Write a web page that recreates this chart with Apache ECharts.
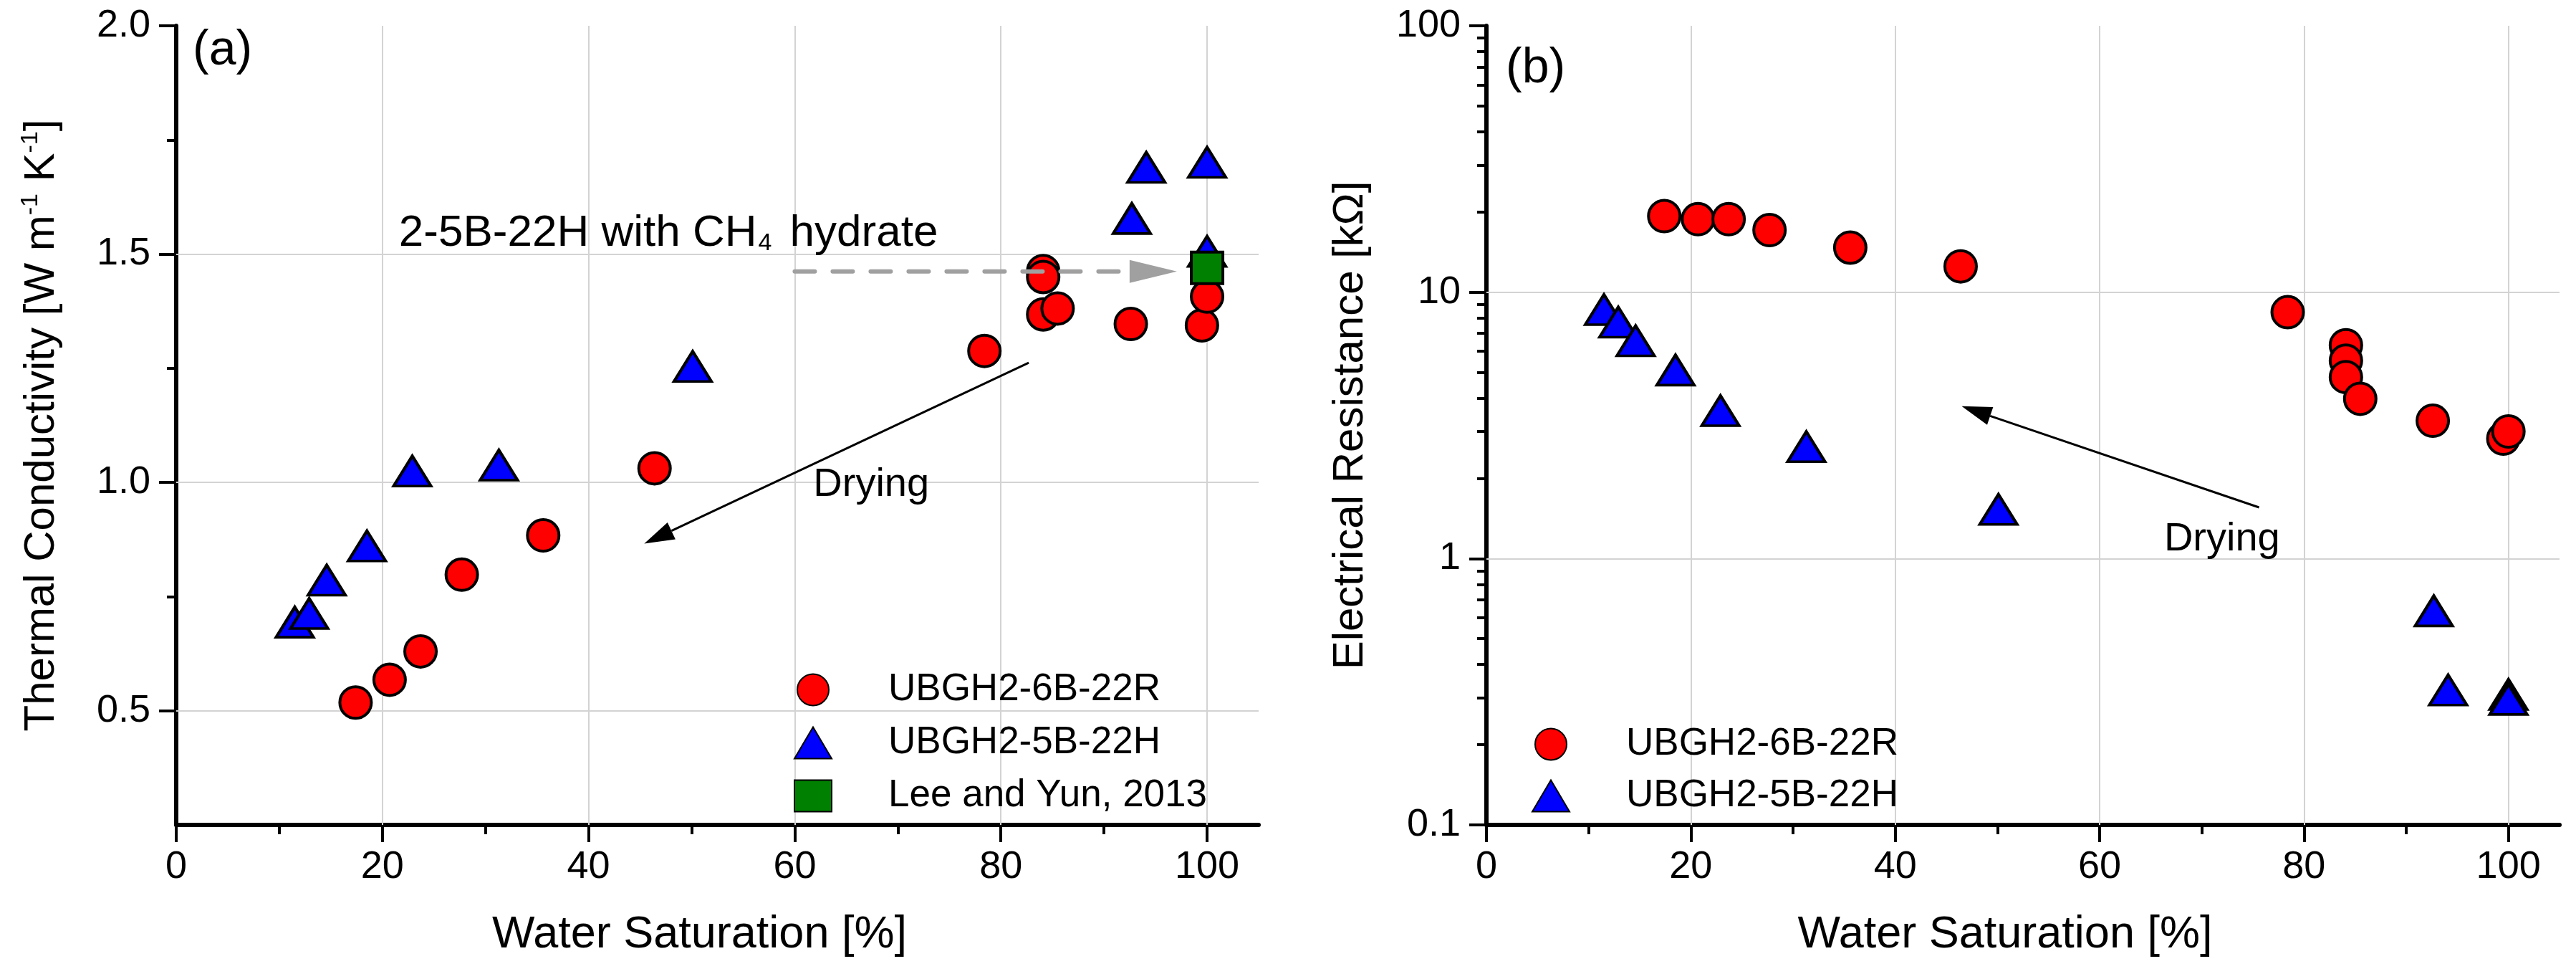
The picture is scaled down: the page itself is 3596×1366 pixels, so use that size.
<!DOCTYPE html>
<html>
<head>
<meta charset="utf-8">
<title>Thermal conductivity and electrical resistance vs water saturation</title>
<script src="https://cdn.jsdelivr.net/npm/echarts@6/dist/echarts.min.js"></script>
<style>
  html, body { margin: 0; padding: 0; background: #fff; }
  #main { width: 3596px; height: 1366px; }
</style>
</head>
<body>
<div id="main"></div>
<script>
// water saturation [%] of each sample (same for both panels)
var sat6B = [17.4, 20.7, 23.7, 27.7, 35.6, 46.4, 78.4, 84.1, 84.1, 84.1, 85.5, 92.6, 99.5, 100];
var sat5B = [11.5, 12.9, 14.6, 18.5, 22.9, 31.3, 50.1, 92.7, 94.1, 100, 100];
var satLee = [100];

// (a) thermal conductivity [W m-1 K-1]
var k6B = [0.518, 0.568, 0.630, 0.798, 0.884, 1.031, 1.288, 1.463, 1.450, 1.368, 1.381, 1.347, 1.344, 1.407];
var k5B = [0.694, 0.713, 0.786, 0.861, 1.025, 1.038, 1.254, 1.578, 1.690, 1.701, 1.506];
var kLee = [1.47];

// (b) electrical resistance [kOhm]
var r6B = [19.3, 18.8, 18.8, 17.1, 14.7, 12.5, 8.41, 6.32, 5.53, 4.80, 3.98, 3.29, 2.82, 3.0];
var r5B = [8.6, 7.72, 6.57, 5.1, 3.59, 2.63, 1.53, 0.636, 0.321, 0.309, 0.296];

// ticks and grid lines
var satTicks = [0, 20, 40, 60, 80, 100];
var satMinor = [10, 30, 50, 70, 90];
var satGrid = [20, 40, 60, 80, 100];
var kTicks = [0.5, 1.0, 1.5, 2.0];
var kMinor = [0.75, 1.25, 1.75];
var kGrid = [0.5, 1.0, 1.5];
var rTicks = [0.1, 1, 10, 100];
var rMinor = [0.2, 0.3, 0.4, 0.5, 0.6, 0.7, 0.8, 0.9, 2, 3, 4, 5, 6, 7, 8, 9, 20, 30, 40, 50, 60, 70, 80, 90];
var rGrid = [1, 10];

var FONT = '"Liberation Sans", Arial, sans-serif';
var names = ['UBGH2-6B-22R', 'UBGH2-5B-22H', 'Lee and Yun, 2013'];

function pts(xs, ys) {
    return xs.map(function (x, i) { return [x, ys[i]]; });
}

var chart = echarts.init(document.getElementById('main'));

function satAxis(gi) {
    return {
        type: 'value', gridIndex: gi, min: 0, max: 105, position: 'bottom',
        name: 'Water Saturation [%]', nameLocation: 'middle', nameGap: 122,
        nameTextStyle: { fontSize: 63, color: '#000', fontFamily: FONT, padding: [0, 50, 0, 0] },
        axisLine: { onZero: false, lineStyle: { color: '#000', width: 6 } },
        axisTick: { customValues: satTicks, length: 24, lineStyle: { color: '#000', width: 4 } },
        axisLabel: { customValues: satTicks, fontSize: 54, margin: 32, color: '#000', fontFamily: FONT },
        splitLine: { show: false }
    };
}
// second axis on the same side, used only for the short ticks
function minorAxis(type, gi, min, max, vals, pos) {
    var a = {
        type: type, gridIndex: gi, min: min, max: max, position: pos,
        axisLine: { show: false, onZero: false }, axisLabel: { show: false }, splitLine: { show: false },
        axisTick: { customValues: vals, length: 13, lineStyle: { color: '#000', width: 4 } }
    };
    if (type === 'log') a.logBase = 10;
    return a;
}

function gridLines(xs, ys) {
    return {
        silent: true, z: 1, animation: false,
        symbol: ['none', 'none'],
        label: { show: false },
        lineStyle: { color: '#d3d3d3', width: 2, type: 'solid' },
        data: xs.map(function (v) { return { xAxis: v }; })
            .concat(ys.map(function (v) { return { yAxis: v }; }))
    };
}

var redStyle = { color: '#ff0000', borderColor: '#000', borderWidth: 4, opacity: 1 };
var blueStyle = { color: '#0000ff', borderColor: '#000', borderWidth: 4, opacity: 1 };
var greenStyle = { color: '#008000', borderColor: '#000', borderWidth: 4, opacity: 1 };

var legendBase = {
    orient: 'vertical', itemWidth: 52, itemHeight: 44, selectedMode: false,
    textStyle: { fontSize: 53, color: '#000', fontFamily: FONT, lineHeight: 44, padding: [0, 0, 0, 74] }
};

var option = {
    animation: false,
    backgroundColor: '#fff',
    grid: [
        { left: 246, top: 36, width: 1511, height: 1115 },
        { left: 2075, top: 36, width: 1498, height: 1115 }
    ],
    legend: [
        Object.assign({}, legendBase, {
            left: 1103, top: 931, itemGap: 21,
            data: [names[0], names[1], { name: names[2], icon: 'rect', itemStyle: { opacity: 1 } }]
        }),
        Object.assign({}, legendBase, { data: names.slice(0, 2), left: 2133, top: 1007, itemGap: 19 })
    ],
    xAxis: [
        satAxis(0),
        minorAxis('value', 0, 0, 105, satMinor, 'bottom'),
        satAxis(1),
        minorAxis('value', 1, 0, 105, satMinor, 'bottom')
    ],
    yAxis: [
        {
            type: 'value', gridIndex: 0, min: 0.25, max: 2.0, position: 'left',
            name: 'Thermal Conductivity [W m{s|-1} K{s|-1}]', nameLocation: 'middle', nameGap: 156,
            nameTextStyle: {
                fontSize: 60, color: '#000', fontFamily: FONT, lineHeight: 64,
                rich: { s: { fontSize: 34, lineHeight: 34, verticalAlign: 'top', fontFamily: FONT, color: '#000' } }
            },
            axisLine: { onZero: false, lineStyle: { color: '#000', width: 6 } },
            axisTick: { customValues: kTicks, length: 24, lineStyle: { color: '#000', width: 4 } },
            axisLabel: {
                customValues: kTicks, fontSize: 54, margin: 36, color: '#000', fontFamily: FONT,
                formatter: function (v) { return v.toFixed(1); }
            },
            splitLine: { show: false }
        },
        minorAxis('value', 0, 0.25, 2.0, kMinor, 'left'),
        {
            type: 'log', logBase: 10, gridIndex: 1, min: 0.1, max: 100, position: 'left',
            name: 'Electrical Resistance [k\u03A9]', nameLocation: 'middle', nameGap: 160,
            nameTextStyle: { fontSize: 60, color: '#000', fontFamily: FONT },
            axisLine: { onZero: false, lineStyle: { color: '#000', width: 6 } },
            axisTick: { customValues: rTicks, length: 24, lineStyle: { color: '#000', width: 4 } },
            axisLabel: {
                customValues: rTicks, fontSize: 54, margin: 36, color: '#000', fontFamily: FONT,
                formatter: function (v) { return String(parseFloat(Number(v).toPrecision(3))); }
            },
            splitLine: { show: false }
        },
        minorAxis('log', 1, 0.1, 100, rMinor, 'left')
    ],
    series: [
        {
            name: names[0], type: 'scatter', xAxisIndex: 0, yAxisIndex: 0,
            symbol: 'circle', symbolSize: 44, itemStyle: redStyle,
            data: pts(sat6B, k6B), markLine: gridLines(satGrid, kGrid)
        },
        {
            name: names[1], type: 'scatter', xAxisIndex: 0, yAxisIndex: 0,
            symbol: 'triangle', symbolSize: [52, 42], itemStyle: blueStyle,
            data: pts(sat5B, k5B)
        },
        {
            name: names[2], type: 'scatter', xAxisIndex: 0, yAxisIndex: 0,
            symbol: 'rect', symbolSize: 44, itemStyle: greenStyle,
            data: pts(satLee, kLee)
        },
        {
            name: names[0], type: 'scatter', xAxisIndex: 2, yAxisIndex: 2,
            symbol: 'circle', symbolSize: 44, itemStyle: redStyle,
            data: pts(sat6B, r6B), markLine: gridLines(satGrid, rGrid)
        },
        {
            name: names[1], type: 'scatter', xAxisIndex: 2, yAxisIndex: 2,
            symbol: 'triangle', symbolSize: [52, 42], itemStyle: blueStyle,
            data: pts(sat5B, r5B)
        }
    ]
};
chart.setOption(option);

// annotations, placed from data coordinates
function px(gi, p) {
    return chart.convertToPixel({ xAxisIndex: gi * 2, yAxisIndex: gi * 2 }, p);
}
function arrowEls(gi, from, to, color, w, headLen, headHalf, dash) {
    var a = px(gi, from), b = px(gi, to);
    var dx = b[0] - a[0], dy = b[1] - a[1];
    var L = Math.sqrt(dx * dx + dy * dy), ux = dx / L, uy = dy / L;
    var bx = b[0] - ux * headLen, by = b[1] - uy * headLen;
    return [
        {
            type: 'line', z: 20, silent: true,
            shape: { x1: a[0], y1: a[1], x2: bx, y2: by },
            style: { stroke: color, lineWidth: w, lineDash: dash || null, lineCap: dash ? 'round' : 'butt' }
        },
        {
            type: 'polygon', z: 20, silent: true,
            shape: { points: [[b[0], b[1]], [bx - uy * headHalf, by + ux * headHalf], [bx + uy * headHalf, by - ux * headHalf]] },
            style: { fill: color }
        }
    ];
}
function textEl(gi, p, text, size, rich) {
    var q = px(gi, p);
    return {
        type: 'text', z: 20, silent: true, x: q[0], y: q[1],
        style: {
            text: text, fontSize: size, fontFamily: FONT, fill: '#000',
            align: 'left', verticalAlign: 'middle', rich: rich || undefined
        }
    };
}

var graphic = []
    .concat(arrowEls(0, [60, 1.462], [97.07, 1.462], '#a0a0a0', 6, 66, 16, [28, 25]))
    .concat(arrowEls(0, [82.7, 1.262], [45.4, 0.866], '#000', 3, 42, 13))
    .concat(arrowEls(1, [75.6, 1.556], [46.5, 3.73], '#000', 3, 42, 13));
graphic.push(textEl(0, [1.6, 1.945], '(a)', 68));
graphic.push(textEl(1, [1.9, 68.8], '(b)', 68));
graphic.push(textEl(0, [21.6, 1.545], '2-5B-22H with CH{sub|4} hydrate', 62, {
    sub: { fontSize: 34, fontFamily: FONT, fill: '#000', verticalAlign: 'bottom', lineHeight: 22, padding: [0, 8, 0, 2] }
}));
graphic.push(textEl(0, [61.8, 0.994], 'Drying', 56));
graphic.push(textEl(1, [66.3, 1.18], 'Drying', 56));

chart.setOption({ graphic: graphic });
</script>
</body>
</html>
